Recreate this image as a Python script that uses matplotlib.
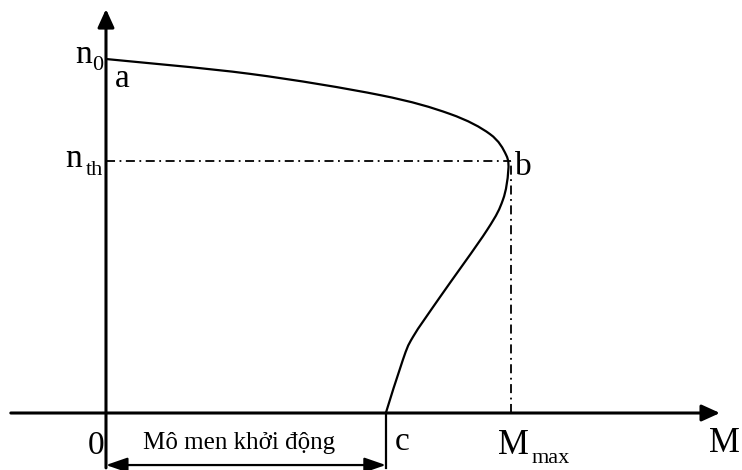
import matplotlib
matplotlib.use("Agg")
import matplotlib.pyplot as plt
from matplotlib.path import Path
from matplotlib.patches import PathPatch

# speed-torque characteristic, torque relative to M_max, speed relative to n0
torque = [0.000, 0.356, 0.677, 0.849, 0.948, 0.988, 0.993, 0.980, 0.941,
          0.825, 0.758, 0.733, 0.691]
speed = [1.000, 0.958, 0.898, 0.845, 0.788, 0.729, 0.681, 0.602, 0.517,
         0.328, 0.215, 0.150, 0.000]

n_0 = 1.0
n_th = 0.712
M_max = 1.0
M_start = 0.691

FONT = "Liberation Serif"


def smooth_path(xs, ys):
    # Catmull-Rom through the points, written as cubic Bezier segments
    pts = list(zip(xs, ys))
    ext = [pts[0]] + pts + [pts[-1]]
    verts = [pts[0]]
    codes = [Path.MOVETO]
    for i in range(1, len(ext) - 2):
        p0, p1, p2, p3 = ext[i - 1], ext[i], ext[i + 1], ext[i + 2]
        c1 = (p1[0] + (p2[0] - p0[0]) / 6.0, p1[1] + (p2[1] - p0[1]) / 6.0)
        c2 = (p2[0] - (p3[0] - p1[0]) / 6.0, p2[1] - (p3[1] - p1[1]) / 6.0)
        verts += [c1, c2, p2]
        codes += [Path.CURVE4] * 3
    return Path(verts, codes)


def arrow(ax, start, end, style, lw):
    ax.annotate("", xy=end, xytext=start,
                arrowprops=dict(arrowstyle=style, color="black", lw=lw,
                                shrinkA=0, shrinkB=0))


fig = plt.figure(figsize=(7.42, 4.70), dpi=100)
ax = fig.add_axes([0, 0, 1, 1])
ax.set_xlim(-0.2617, 1.5704)
ax.set_ylim(-0.161, 1.1667)
ax.axis("off")

# axes with arrows
arrow(ax, (-0.235, 0), (1.516, 0), "-|>,head_length=1.1,head_width=0.5", 2.2)
arrow(ax, (0, -0.155), (0, 1.141), "-|>,head_length=1.1,head_width=0.5", 2.2)

# dash-dot guides to point b
dash = (0, (5, 2.5, 1, 2.5))
ax.plot([0, M_max], [n_th, n_th], color="black", lw=1.3, linestyle=dash)
ax.plot([M_max, M_max], [0, n_th], color="black", lw=1.3, linestyle=dash)

# characteristic curve
ax.add_patch(PathPatch(smooth_path(torque, speed), fill=False,
                       edgecolor="black", lw=1.6))

# starting torque dimension
ax.plot([M_start, M_start], [0, -0.155], color="black", lw=1.6)
arrow(ax, (0, -0.147), (M_start, -0.147),
      "<|-|>,head_length=1.3,head_width=0.45", 1.6)

big = 24
sub = 16
ax.text(-0.0765, 0.989, "n", fontsize=big, family=FONT, va="baseline")
ax.text(-0.034, 0.969, "0", fontsize=sub, family=FONT, va="baseline")
ax.text(0.022, 0.921, "a", fontsize=big, family=FONT, va="baseline")
ax.text(-0.101, 0.695, "n", fontsize=big, family=FONT, va="baseline")
ax.text(-0.051, 0.672, "th", fontsize=sub, family=FONT, va="baseline")
ax.text(1.010, 0.672, "b", fontsize=big, family=FONT, va="baseline")
ax.text(-0.044, -0.116, "0", fontsize=big, family=FONT, va="baseline")
ax.text(0.714, -0.105, "c", fontsize=big, family=FONT, va="baseline")
ax.text(0.968, -0.116, "M", fontsize=25, family=FONT, va="baseline")
ax.text(1.050, -0.141, "max", fontsize=sub, family=FONT, va="baseline")
ax.text(1.488, -0.110, "M", fontsize=25, family=FONT, va="baseline")
ax.text(0.328, -0.102, "Mô men khởi động", fontsize=18, family=FONT,
        ha="center", va="baseline")

fig.savefig("out.png", dpi=100)
